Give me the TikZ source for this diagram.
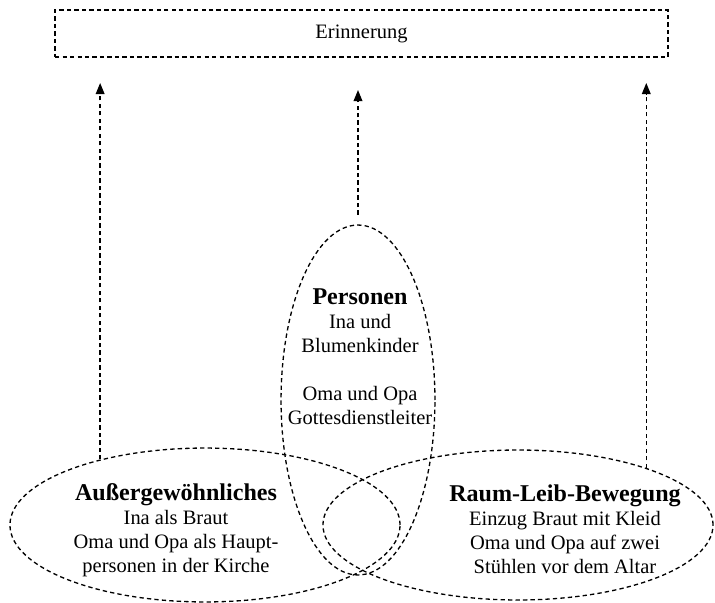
\documentclass[tikz,border=0pt]{standalone}
\usepackage{fontspec}
\setmainfont{Liberation Serif}
\usetikzlibrary{arrows.meta,positioning,shapes.geometric}

\newcommand\kopf[1]{{\fontsize{17.4}{17.3}\selectfont\bfseries #1}}

\begin{document}
\begin{tikzpicture}[x=0.0254cm, y=-0.0254cm,
  umriss/.style={draw, dash pattern=on 1.1mm off 0.8mm, line width=0.95pt},
  kreis/.style={umriss, ellipse, inner sep=0pt},
  pfeil/.style={umriss, -{Triangle[length=2.8mm, width=2.2mm]}},
  txt/.style={align=center, font=\fontsize{14.8}{17.3}\selectfont, inner sep=0pt}
]
  \useasboundingbox (0,0) rectangle (715,603);

  \node[umriss, minimum width=15.57cm, minimum height=1.19cm,
        font=\fontsize{14.8}{17.3}\selectfont] (erinnerung) at (361.5,33.5) {Erinnerung};

  \node[kreis, minimum width=9.91cm, minimum height=3.91cm] (aussen)   at (205,525) {};
  \node[kreis, minimum width=9.91cm, minimum height=3.81cm] (raum)     at (518,525) {};
  \node[kreis, minimum width=3.91cm, minimum height=8.89cm] (personen) at (358,400) {};

  \node[txt] (aussenT) at (176,530)
    {\kopf{Außergewöhnliches}\\ Ina als Braut\\ Oma und Opa als Haupt-\\ personen in der Kirche};
  \node[txt] (raumT) at (565,529)
    {\kopf{Raum-Leib-Bewegung}\\ Einzug Braut mit Kleid\\ Oma und Opa auf zwei\\ Stühlen vor dem Altar};
  \node[txt] (personenT) at (360,357)
    {\kopf{Personen}\\ Ina und\\ Blumenkinder\\[17.3pt] Oma und Opa\\ Gottesdienstleiter};

  \coordinate (tipL) at (aussen.148 |- 0,83);
  \coordinate (tipM) at (personen.north |- 0,90);
  \coordinate (tipR) at (raum.24 |- 0,83);
  \coordinate (fussM) at ([yshift=2.5mm]personen.north);

  \draw[pfeil] (aussen.148) -- (tipL);
  \draw[pfeil] (fussM) -- (tipM);
  \draw[pfeil] (raum.24) -- (tipR);
\end{tikzpicture}
\end{document}
